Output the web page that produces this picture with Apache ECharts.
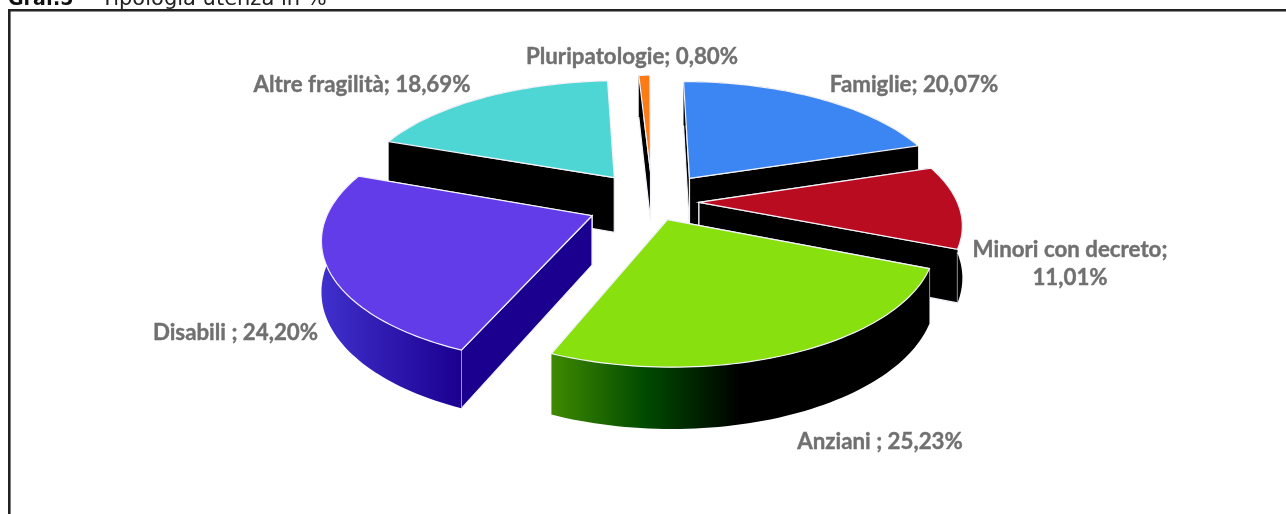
<!DOCTYPE html>
<html><head><meta charset="utf-8">
<style>html,body{margin:0;padding:0;background:#fff}#c{width:1286px;height:514px}</style>
<script src="https://cdn.jsdelivr.net/npm/echarts@6/dist/echarts.min.js"></script>
</head><body><div id="c"></div>
<script>
const categories = ['Famiglie','Minori con decreto','Anziani','Disabili','Altre fragilità','Pluripatologie'];
const values = [20.07,11.01,25.23,24.20,18.69,0.80];
const labels = ['Famiglie; 20,07%','Minori con decreto;\n11,01%','Anziani ; 25,23%','Disabili ; 24,20%','Altre fragilità; 18,69%','Pluripatologie; 0,80%'];
const topColors = ['#3b86f2','#b90c20','#88e00f','#633cea','#4dd6d4','#fb7b14'];
const wallStops = [
  [[0,'#000'],[1,'#000']],
  [[0,'#000'],[1,'#000']],
  [[0,'#3f8a00'],[0.25,'#004a00'],[0.5,'#000'],[1,'#000']],
  [[0,'#4030cc'],[1,'#1b0090']],
  [[0,'#000'],[1,'#000']],
  [[0,'#000'],[1,'#000']]
];
const radialWall = ['#000','#000','#000','#1b0090','#000','#000'];
const explode = [62,53,45,53,53,53];
const nudgeU = [8,-0.5,3.5,-4,-1,6];
const nudgeV = [-11,-13,-10,-22,-2,1];
const radius = [260,256,255,258,261,265];
const depth = [52,50,50,48,56,50];
const labelPos = [[914,85],[1070,264],[880,442],[235.5,333],[362,85],[632,57]];

const view = {cx:646,y0:195.6,A:724,D:1600};
function project(u,v,h){
  const s = 1/(1+v/view.D);
  return [view.cx+u*s, view.y0-view.A+(view.A+h)*s];
}
const cum = values.reduce((a,v)=>{a.push((a.length?a[a.length-1]:0)+v);return a;},[]);
const total = cum[cum.length-1];
const order = categories.map((_,i)=>i).sort((a,b)=>{
  const mid=i=>(cum[i]-values[i]/2)/total*2*Math.PI;
  return Math.cos(mid(b))-Math.cos(mid(a));
});
const rows = order.map(i=>[i,cum[i]-values[i],values[i]]);

function renderItem(params,api){
  const i=api.value(0), a0=api.value(1)/total*2*Math.PI, a1=(api.value(1)+api.value(2))/total*2*Math.PI;
  const mid=(a0+a1)/2, E=explode[i], R=radius[i], H=depth[i];
  const ou=E*Math.sin(mid)+nudgeU[i], ov=E*Math.cos(mid)+nudgeV[i];
  const rim=[];
  const n=Math.max(3,Math.ceil((a1-a0)*40));
  for(let k=0;k<=n;k++){const t=a0+(a1-a0)*k/n;rim.push([ou+R*Math.sin(t),ov+R*Math.cos(t)]);}
  const P=(p,h)=>project(p[0],p[1],h);
  const apex=[ou,ov];
  const first=rim[0], last=rim[rim.length-1];
  const edge='#f2f2f8';
  const poly=(pts,fill,stroke)=>({type:'polygon',shape:{points:pts},style:{fill:fill,stroke:stroke||null,lineWidth:stroke?1.2:0}});
  const wall=(a,b)=>[P(a,0),P(b,0),P(b,H),P(a,H)];
  const curve=rim.map(p=>P(p,0)).concat(rim.slice().reverse().map(p=>P(p,H)));
  const grad=new echarts.graphic.LinearGradient(0,0,1,0,wallStops[i].map(s=>({offset:s[0],color:s[1]})));
  const walls=[first,last].sort((p,q)=>q[1]-p[1]).map(e=>poly(wall(apex,e),radialWall[i],edge));
  return {type:'group',children:walls.concat([
    poly(curve,grad,null),
    poly([P(apex,0)].concat(rim.map(p=>P(p,0))),topColors[i],edge),
    {type:'text',x:labelPos[i][0],y:labelPos[i][1],style:{text:labels[i],fill:'#707070',stroke:'#707070',lineWidth:0.4,font:'bold 22.3px Lato',align:'center',verticalAlign:'middle',lineHeight:28}}
  ])};
}
const chart=echarts.init(document.getElementById('c'),null,{renderer:'canvas'});
chart.setOption({
  animation:false,
  backgroundColor:'#fff',
  graphic:[
    {type:'rect',shape:{x:9.3,y:10.3,width:1400,height:600},style:{fill:'none',stroke:'#222',lineWidth:2.6},z:1},
    {type:'text',x:8,y:10,style:{text:'Graf.5',font:'bold 19px "DejaVu Sans"',fill:'#111',verticalAlign:'bottom'},z:2},
    {type:'text',x:101,y:10,style:{text:'Tipologia utenza in %',font:'21px "DejaVu Sans"',fill:'#222',verticalAlign:'bottom'},z:2}
  ],
  series:[{type:'custom',coordinateSystem:'none',renderItem:renderItem,data:rows,z:5,silent:true,clip:false}]
});
</script></body></html>
